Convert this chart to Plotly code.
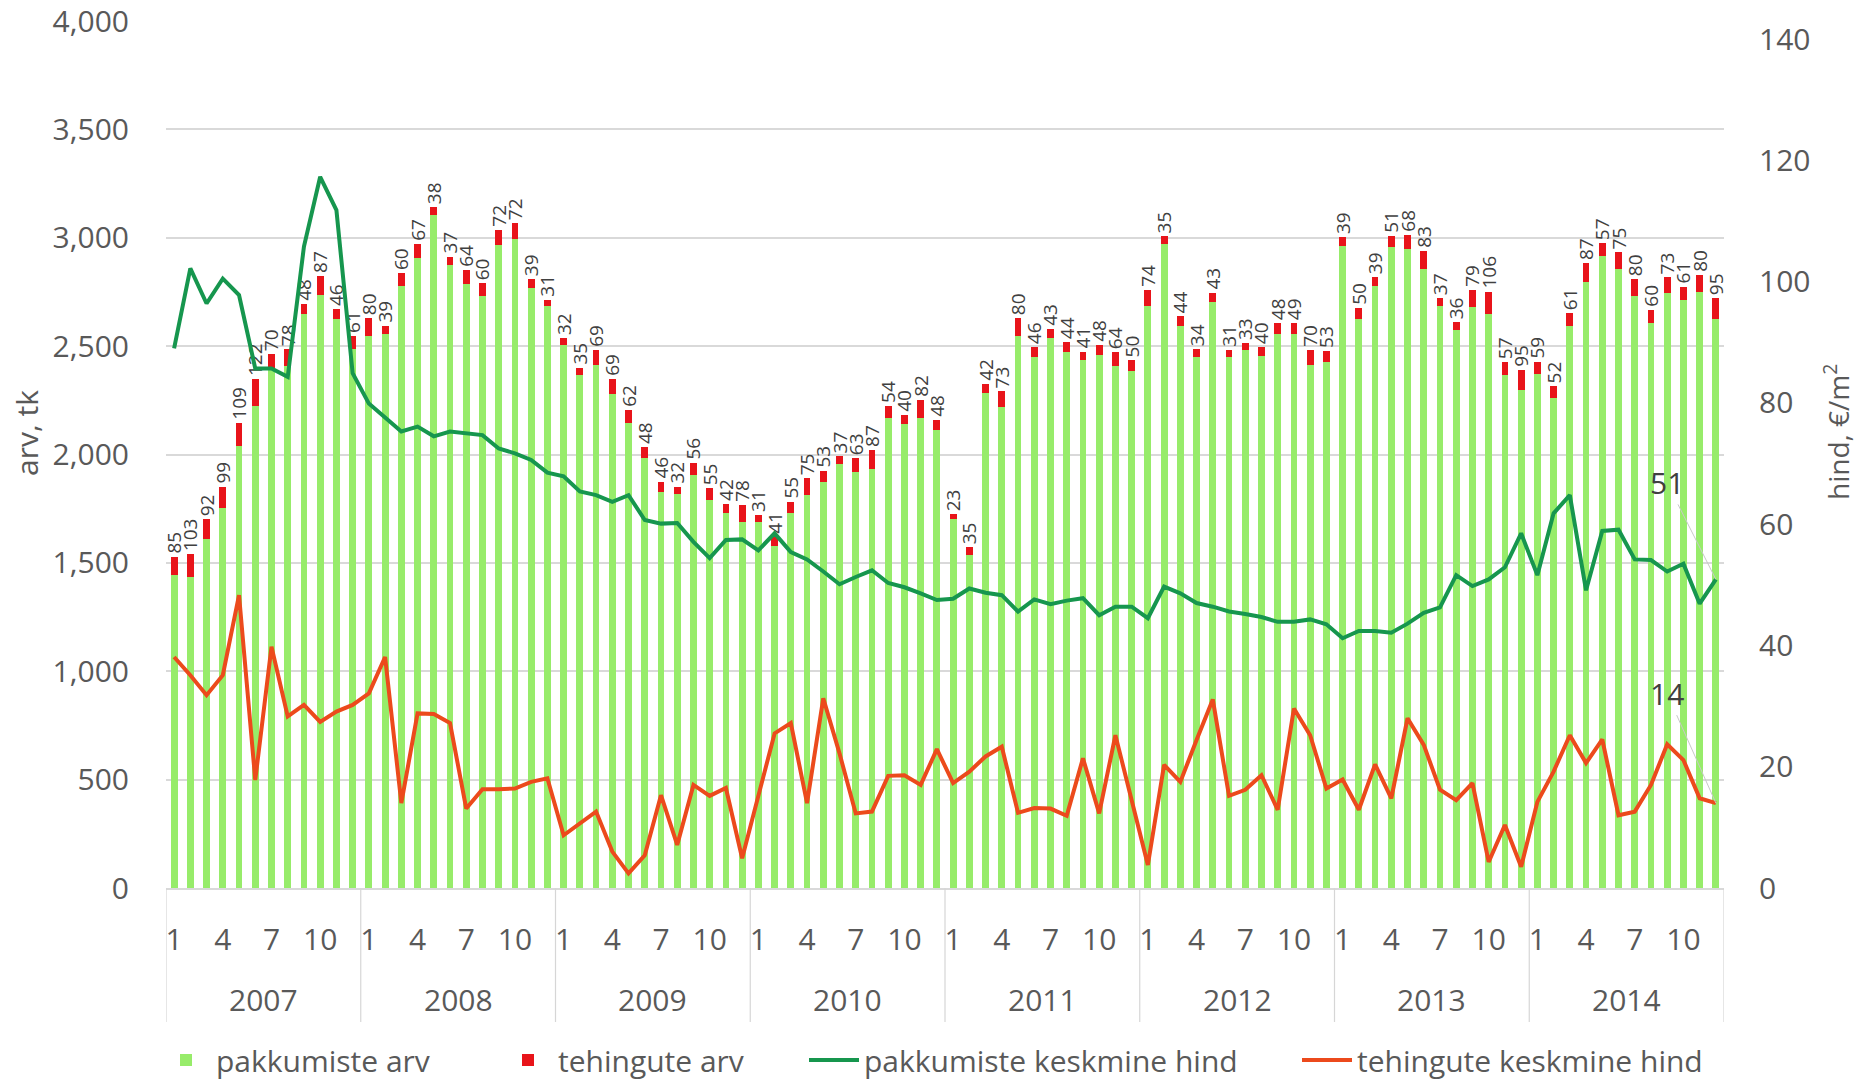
import plotly.graph_objects as go

# ---------------- data ----------------
years = [2007, 2008, 2009, 2010, 2011, 2012, 2013, 2014]
months = list(range(1, 13))
periods = [f"{y}-{m:02d}" for y in years for m in months]

# pakkumiste arv (green part of stacked bar)
offers_count = [
    1444, 1437, 1609, 1753, 2038, 2226, 2393, 2408, 2647, 2737, 2625, 2486,
    2549, 2556, 2777, 2905, 3103, 2876, 2788, 2730, 2965, 2995, 2770, 2683,
    2505, 2366, 2414, 2280, 2144, 1986, 1829, 1820, 1907, 1789, 1730, 1690,
    1690, 1579, 1728, 1815, 1873, 1954, 1920, 1934, 2170, 2143, 2170, 2112,
    1701, 1537, 2284, 2218, 2549, 2449, 2537, 2474, 2434, 2458, 2408, 2384,
    2686, 2971, 2593, 2452, 2704, 2452, 2481, 2455, 2558, 2557, 2413, 2425,
    2964, 2627, 2779, 2958, 2946, 2857, 2684, 2574, 2681, 2646, 2369, 2296,
    2370, 2262, 2591, 2796, 2918, 2857, 2729, 2608, 2744, 2714, 2749, 2626,
]
# tehingute arv (red part of stacked bar, also the bar labels)
deals_count = [
    85, 103, 92, 99, 109, 122, 70, 78, 48, 87, 46, 61,
    80, 39, 60, 67, 38, 37, 64, 60, 72, 72, 39, 31,
    32, 35, 69, 69, 62, 48, 46, 32, 56, 55, 42, 78,
    31, 41, 55, 75, 53, 37, 63, 87, 54, 40, 82, 48,
    23, 35, 42, 73, 80, 46, 43, 44, 41, 48, 64, 50,
    74, 35, 44, 34, 43, 31, 33, 40, 48, 49, 70, 53,
    39, 50, 39, 51, 68, 83, 37, 36, 79, 106, 57, 95,
    59, 52, 61, 87, 57, 75, 80, 60, 73, 61, 80, 95,
]
# pakkumiste keskmine hind, EUR/m2
offers_price = [
    89.0, 102.2, 96.4, 100.5, 97.8, 85.7, 85.7, 84.3, 105.8, 117.3, 111.8, 84.9,
    79.9, 77.5, 75.3, 76.1, 74.5, 75.3, 75.0, 74.7, 72.5, 71.7, 70.6, 68.5,
    67.9, 65.4, 64.8, 63.7, 64.8, 60.7, 60.1, 60.2, 57.1, 54.4, 57.4, 57.5,
    55.7, 58.5, 55.4, 54.2, 52.2, 50.1, 51.3, 52.4, 50.3, 49.6, 48.6, 47.5,
    47.7, 49.4, 48.7, 48.3, 45.6, 47.6, 46.8, 47.4, 47.8, 45.0, 46.4, 46.4,
    44.5, 49.7, 48.6, 47.0, 46.4, 45.6, 45.2, 44.7, 43.9, 43.9, 44.3, 43.5,
    41.2, 42.4, 42.4, 42.1, 43.6, 45.4, 46.3, 51.6, 49.8, 50.9, 52.9, 58.5,
    51.6, 61.8, 64.8, 49.1, 58.9, 59.1, 54.2, 54.1, 52.2, 53.5, 46.9, 50.9,
]
# tehingute keskmine hind, EUR/m2
deals_price = [
    38.1, 35.1, 31.8, 35.1, 48.3, 17.8, 39.8, 28.3, 30.2, 27.4, 29.1, 30.2,
    32.1, 38.1, 14.0, 28.8, 28.7, 27.2, 13.1, 16.3, 16.3, 16.4, 17.5, 18.1,
    8.7, 10.7, 12.6, 6.0, 2.4, 5.4, 15.3, 7.1, 17.0, 15.2, 16.5, 4.9,
    15.3, 25.5, 27.2, 14.0, 31.3, 22.2, 12.3, 12.6, 18.5, 18.6, 17.0, 22.9,
    17.3, 19.2, 21.7, 23.3, 12.4, 13.2, 13.1, 11.9, 21.4, 12.3, 25.2, 14.5,
    3.8, 20.3, 17.5, 24.4, 31.1, 15.2, 16.2, 18.6, 12.9, 29.6, 25.2, 16.4,
    17.9, 12.9, 20.4, 14.8, 28.0, 23.6, 16.2, 14.5, 17.3, 4.3, 10.4, 3.5,
    14.2, 19.2, 25.2, 20.6, 24.5, 12.0, 12.6, 17.0, 23.7, 21.1, 14.8, 14.0,
]
shown_months = [1, 4, 7, 10]
series_names = ["pakkumiste arv", "tehingute arv",
                "pakkumiste keskmine hind", "tehingute keskmine hind"]
left_title = "arv, tk"
right_title = "hind, €/m<sup>2</sup>"

# ---------------- styling ----------------
FONT = "Open Sans"
TXT = "#595959"
C_BAR_G = "#97ec6a"
C_BAR_R = "#e8141a"
C_LINE_G = "#16964e"
C_LINE_R = "#ec4a1c"
GRID = "#d9d9d9"
FS = 30

x_idx = list(range(len(periods)))
tickvals = [i for i, p in enumerate(periods) if int(p[5:]) in shown_months]
ticktext = [str(int(periods[i][5:])) for i in tickvals]

fig = go.Figure()
fig.add_trace(go.Bar(
    x=x_idx, y=offers_count, name=series_names[0], marker_color=C_BAR_G,
    marker_line_width=0, legend="legend",
))
fig.add_trace(go.Bar(
    x=x_idx, y=deals_count, name=series_names[1], marker_color=C_BAR_R,
    marker_line_width=0, text=[str(v) for v in deals_count],
    textposition="outside", textangle=-90, constraintext="none",
    cliponaxis=False, textfont=dict(family=FONT, size=19, color="#404040"),
    legend="legend2",
))
fig.add_trace(go.Scatter(
    x=x_idx, y=offers_price, name=series_names[2], yaxis="y2", mode="lines",
    line=dict(color=C_LINE_G, width=4), legend="legend3",
))
fig.add_trace(go.Scatter(
    x=x_idx, y=deals_price, name=series_names[3], yaxis="y2", mode="lines",
    line=dict(color=C_LINE_R, width=4), legend="legend4",
))

W, H = 1859, 1080
L, R, T, B = 166, 135, 21, 192
PH = H - T - B
PW = W - L - R


def py(pix):  # pixel y (from top) -> paper y
    return (H - B - pix) / PH


def px(pix):  # pixel x -> paper x
    return (pix - L) / PW


shapes = []
for k in range(len(years) + 1):
    shapes.append(dict(type="line", xref="x", yref="paper",
                       x0=12 * k - 0.5, x1=12 * k - 0.5, y0=0, y1=py(1022),
                       line=dict(color="#d6d6d6", width=1.2)))

annotations = []
for k, yr in enumerate(years):
    annotations.append(dict(x=12 * k + 5.5, y=py(1000), xref="x", yref="paper",
                            text=str(yr), showarrow=False,
                            font=dict(family=FONT, size=FS, color=TXT),
                            xanchor="center", yanchor="middle"))
last = len(periods) - 1
annotations.append(dict(x=last, y=offers_price[-1], xref="x", yref="y2",
                        text=f"{offers_price[-1]:.0f}", showarrow=True,
                        arrowhead=0, arrowwidth=1, arrowcolor="#c8c8c8",
                        ax=-49, ay=-97,
                        font=dict(family=FONT, size=FS, color="#404040")))
annotations.append(dict(x=last, y=deals_price[-1], xref="x", yref="y2",
                        text=f"{deals_price[-1]:.0f}", showarrow=True,
                        arrowhead=0, arrowwidth=1, arrowcolor="#c8c8c8",
                        ax=-49, ay=-110,
                        font=dict(family=FONT, size=FS, color="#404040")))
# axis titles
annotations.append(dict(x=px(26), y=py(433), xref="paper", yref="paper",
                        text=left_title, textangle=-90, showarrow=False,
                        xanchor="center", yanchor="middle",
                        font=dict(family=FONT, size=FS, color=TXT)))
annotations.append(dict(x=px(1836), y=py(432), xref="paper", yref="paper",
                        text=right_title, textangle=-90, showarrow=False,
                        xanchor="center", yanchor="middle",
                        font=dict(family=FONT, size=28, color=TXT)))

leg_common = dict(orientation="h", yanchor="middle", xanchor="left",
                  bgcolor="rgba(0,0,0,0)", itemwidth=50,
                  font=dict(family=FONT, size=FS, color=TXT))
legy = py(1060)

fig.update_layout(
    width=W, height=H,
    margin=dict(l=L, r=R, t=T, b=B, autoexpand=False),
    paper_bgcolor="white", plot_bgcolor="white",
    barmode="stack", bargap=0.58,
    font=dict(family=FONT, color=TXT),
    showlegend=True,
    legend=dict(x=px(156), y=legy, **leg_common),
    legend2=dict(x=px(498), y=legy, **leg_common),
    legend3=dict(x=px(804), y=legy, **leg_common),
    legend4=dict(x=px(1297), y=legy, **leg_common),
    xaxis=dict(range=[-0.5, len(periods) - 0.5], tickvals=tickvals,
               ticktext=ticktext, showgrid=False, zeroline=False,
               ticks="outside", ticklen=24, tickcolor="rgba(0,0,0,0)",
               tickfont=dict(family=FONT, size=FS, color=TXT),
               ticklabeloverflow="allow",
               showline=True, linecolor=GRID, linewidth=1.5),
    yaxis=dict(range=[0, 4000], dtick=500, tickformat=",",
               showgrid=True, gridcolor=GRID, gridwidth=1.5, zeroline=False,
               ticks="outside", ticklen=30, tickcolor="rgba(0,0,0,0)",
               ticklabeloverflow="allow",
               tickfont=dict(family=FONT, size=FS, color=TXT)),
    yaxis2=dict(range=[0, 143], tickvals=list(range(0, 141, 20)),
                overlaying="y", side="right", showgrid=False, zeroline=False,
                ticks="outside", ticklen=28, tickcolor="rgba(0,0,0,0)",
                ticklabeloverflow="allow",
                tickfont=dict(family=FONT, size=FS, color=TXT)),
    shapes=shapes,
    annotations=annotations,
)

fig.write_html(
    "out.html",
    config={"displayModeBar": False},
    post_script="document.body.style.margin='0px';"
                "document.body.style.overflow='hidden';",
)
